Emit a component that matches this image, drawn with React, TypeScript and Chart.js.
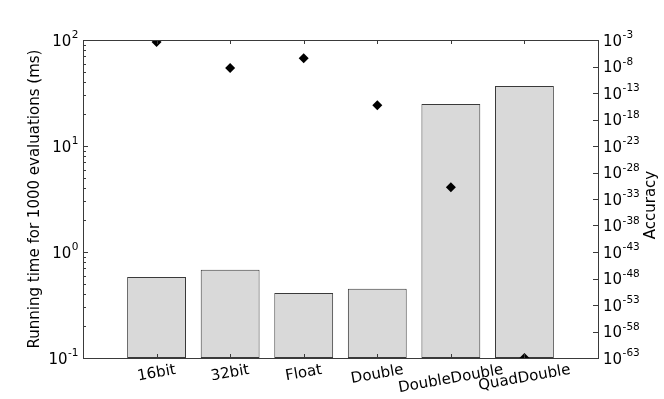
import React, { useEffect, useRef } from "react";
import { Chart, registerables } from "chart.js";

Chart.register(...registerables);

const categories = ["16bit", "32bit", "Float", "Double", "DoubleDouble", "QuadDouble"];
const runningTimeMs = [0.58, 0.68, 0.41, 0.45, 24.9, 36.8];
const accuracy = [4e-4, 5e-9, 3.5e-7, 5e-16, 1.6e-31, 1e-63];
const leftTickExponents = [-1, 0, 1, 2];
const rightTickExponents = [-3, -8, -13, -18, -23, -28, -33, -38, -43, -48, -53, -58, -63];
const leftTitle = "Running time for 1000 evaluations (ms)";
const rightTitle = "Accuracy";

const FONT = "'DejaVu Sans', sans-serif";
const LINE = "#3a3a3a";

function drawPow(ctx: CanvasRenderingContext2D, x: number, y: number, exp: number, align: "left" | "right") {
  ctx.save();
  ctx.fillStyle = "#000";
  ctx.textBaseline = "alphabetic";
  ctx.textAlign = "left";
  ctx.font = `15px ${FONT}`;
  const base = "10";
  const wb = ctx.measureText(base).width;
  ctx.font = `10.5px ${FONT}`;
  const sup = String(exp);
  const ws = ctx.measureText(sup).width;
  const start = align === "right" ? x - wb - ws : x;
  ctx.font = `15px ${FONT}`;
  ctx.fillText(base, start, y + 5.5);
  ctx.font = `10.5px ${FONT}`;
  ctx.fillText(sup, start + wb + 0.5, y - 2);
  ctx.restore();
}

const axesPlugin = {
  id: "mplAxes",
  afterDatasetsDraw(chart: any) {
    const ctx: CanvasRenderingContext2D = chart.ctx;
    const { left, right, top, bottom } = chart.chartArea;
    const xs = chart.scales.x;
    const yl = chart.scales.y;
    const yr = chart.scales.y2;
    ctx.save();
    ctx.strokeStyle = LINE;
    ctx.lineWidth = 1;
    ctx.strokeRect(Math.round(left) + 0.5, Math.round(top) + 0.5, Math.round(right - left), Math.round(bottom - top));
    ctx.beginPath();
    categories.forEach((_, i) => {
      const px = Math.round(xs.getPixelForValue(i + 1)) + 0.5;
      ctx.moveTo(px, bottom);
      ctx.lineTo(px, bottom - 4);
      ctx.moveTo(px, top);
      ctx.lineTo(px, top + 4);
    });
    leftTickExponents.forEach((e) => {
      const py = Math.round(yl.getPixelForValue(Math.pow(10, e))) + 0.5;
      ctx.moveTo(left, py);
      ctx.lineTo(left + 5, py);
      if (e < leftTickExponents[leftTickExponents.length - 1]) {
        for (let m = 2; m <= 9; m++) {
          const pm = Math.round(yl.getPixelForValue(m * Math.pow(10, e))) + 0.5;
          ctx.moveTo(left, pm);
          ctx.lineTo(left + 3, pm);
        }
      }
    });
    rightTickExponents.forEach((e) => {
      const py = Math.round(yr.getPixelForValue(Math.pow(10, e))) + 0.5;
      ctx.moveTo(right, py);
      ctx.lineTo(right - 5, py);
    });
    ctx.stroke();
    ctx.restore();

    leftTickExponents.forEach((e) => {
      drawPow(ctx, left - 5, yl.getPixelForValue(Math.pow(10, e)), e, "right");
    });
    rightTickExponents.forEach((e) => {
      drawPow(ctx, right + 5, yr.getPixelForValue(Math.pow(10, e)), e, "left");
    });

    const theta = (10 * Math.PI) / 180;
    ctx.save();
    ctx.fillStyle = "#000";
    ctx.font = `15px ${FONT}`;
    ctx.textAlign = "center";
    ctx.textBaseline = "middle";
    categories.forEach((c, i) => {
      const px = xs.getPixelForValue(i + 1);
      const w = ctx.measureText(c).width;
      const h = 12;
      const bh = w * Math.sin(theta) + h * Math.cos(theta);
      const cy = bottom + 6 + bh / 2;
      ctx.save();
      ctx.translate(px, cy);
      ctx.rotate(-theta);
      ctx.fillText(c, 0, 0);
      ctx.restore();
    });
    ctx.restore();

    ctx.save();
    ctx.fillStyle = "#000";
    ctx.font = `15px ${FONT}`;
    ctx.textAlign = "center";
    ctx.textBaseline = "middle";
    ctx.translate(35, (top + bottom) / 2);
    ctx.rotate(-Math.PI / 2);
    ctx.fillText(leftTitle, 0, 0);
    ctx.restore();
    ctx.save();
    ctx.fillStyle = "#000";
    ctx.font = `15px ${FONT}`;
    ctx.textAlign = "center";
    ctx.textBaseline = "middle";
    ctx.translate(651, 205);
    ctx.rotate(-Math.PI / 2);
    ctx.fillText(rightTitle, 0, 0);
    ctx.restore();
  },
};

export default function App() {
  const ref = useRef<HTMLCanvasElement>(null);
  useEffect(() => {
    if (!ref.current) return;
    const chart = new Chart(ref.current, {
      type: "bar",
      data: {
        datasets: [
          {
            type: "scatter",
            label: "Accuracy",
            data: categories.map((_, i) => ({ x: i + 1, y: accuracy[i] })),
            yAxisID: "y2",
            xAxisID: "x",
            pointStyle: "rectRot",
            pointRadius: 5,
            pointBackgroundColor: "#000",
            pointBorderColor: "#000",
            pointBorderWidth: 0,
            showLine: false,
            clip: 0,
            order: 0,
          } as any,
          {
            type: "bar",
            label: "Running time",
            data: categories.map((_, i) => ({ x: i + 1, y: runningTimeMs[i] })),
            yAxisID: "y",
            xAxisID: "x",
            backgroundColor: "#d9d9d9",
            borderColor: LINE,
            borderWidth: 1,
            borderSkipped: false,
            barPercentage: 0.8,
            categoryPercentage: 1,
            order: 1,
          } as any,
        ],
      },
      options: {
        animation: false,
        responsive: true,
        maintainAspectRatio: false,
        layout: { padding: { left: 83, right: 66, top: 40, bottom: 41 } },
        plugins: { legend: { display: false }, tooltip: { enabled: false } },
        scales: {
          x: { type: "linear", min: 0, max: 7, display: false, offset: false, grid: { display: false } },
          y: { type: "logarithmic", min: 0.1, max: 100, bounds: "data", display: false, position: "left" },
          y2: { type: "logarithmic", min: 1e-63, max: 1e-3, bounds: "data", display: false, position: "right" },
        },
      } as any,
      plugins: [axesPlugin],
    });
    return () => chart.destroy();
  }, []);
  return (
    <div style={{ position: "fixed", left: 0, top: 0, width: 664, height: 399, background: "#fff" }}>
      <canvas ref={ref} />
    </div>
  );
}
